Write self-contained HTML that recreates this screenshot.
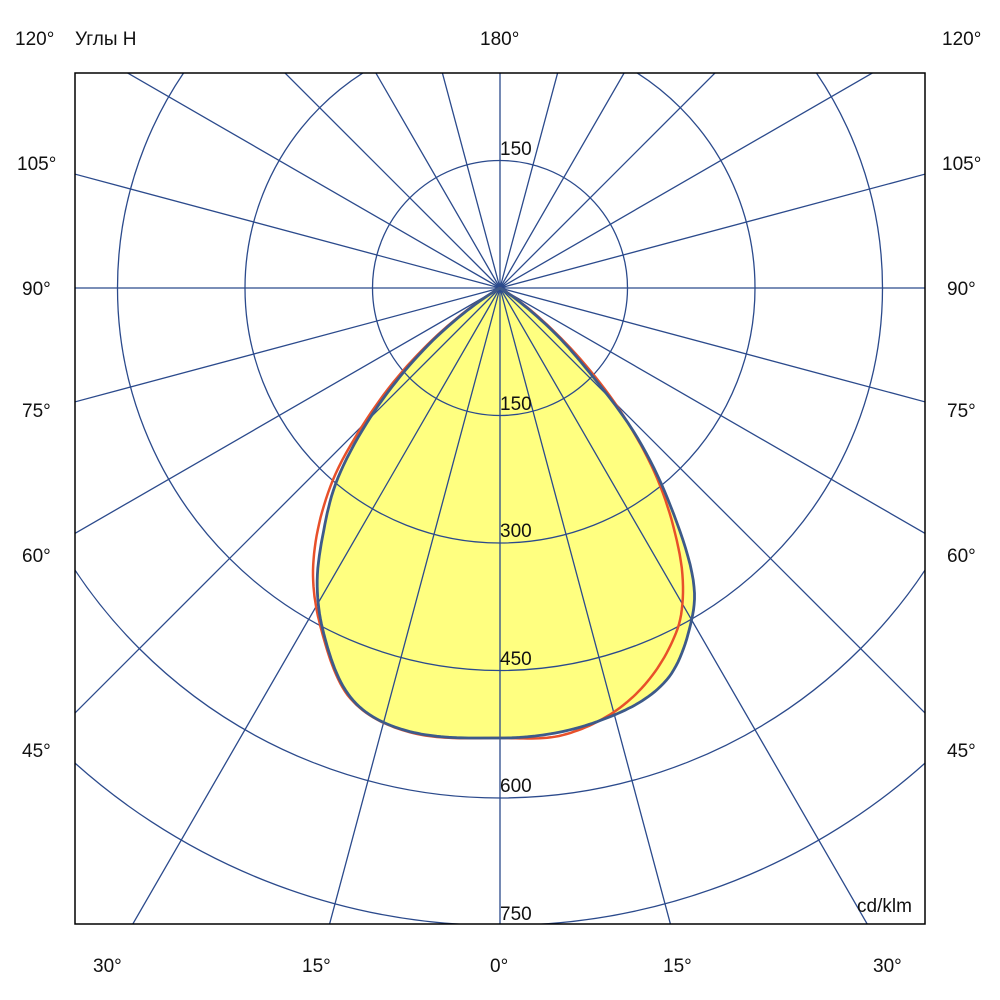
<!DOCTYPE html>
<html><head><meta charset="utf-8"><style>
body{margin:0;background:#fff;overflow:hidden}
text{font-family:"Liberation Sans","DejaVu Sans",sans-serif;font-size:19px;fill:#111}
</style></head><body>
<svg id="s" width="1000" height="1000" viewBox="0 0 1000 1000" xmlns="http://www.w3.org/2000/svg" style="display:block">
<defs><clipPath id="c"><rect x="75" y="73" width="850" height="851"/></clipPath></defs>
<g clip-path="url(#c)">
<path id="fill" fill="#ffff80" stroke="none"/>
<g id="grid2" stroke="#2b4a8c" stroke-width="1.3" fill="none"></g>
<path id="red" fill="none" stroke="#e8502a" stroke-width="2.5"/>
<path id="blue" fill="none" stroke="#3d5a8a" stroke-width="2.8"/>
</g>
<rect x="75" y="73" width="850" height="851" fill="none" stroke="#000" stroke-width="1.5"/>
<g>
<text x="500" y="155">150</text>
<text x="500" y="410">150</text>
<text x="500" y="537">300</text>
<text x="500" y="665">450</text>
<text x="500" y="792">600</text>
<text x="500" y="920">750</text>
<text x="857" y="912">cd/klm</text>
<text x="15" y="45">120°</text><text x="75" y="45">Углы H</text><text x="480" y="45">180°</text><text x="942" y="45">120°</text>
<text x="17" y="170">105°</text><text x="942" y="170">105°</text>
<text x="22" y="295">90°</text><text x="947" y="295">90°</text>
<text x="22" y="417">75°</text><text x="947" y="417">75°</text>
<text x="22" y="562">60°</text><text x="947" y="562">60°</text>
<text x="22" y="757">45°</text><text x="947" y="757">45°</text>
<text x="93" y="972">30°</text><text x="302" y="972">15°</text><text x="490" y="972">0°</text><text x="663" y="972">15°</text><text x="873" y="972">30°</text>
</g>
</svg>
<script>
var g=document.getElementById('grid2'),ns='http://www.w3.org/2000/svg';
for(var a=0;a<360;a+=15){var r=a*Math.PI/180,l=document.createElementNS(ns,'line');
l.setAttribute('x1',500);l.setAttribute('y1',288);l.setAttribute('x2',500+1500*Math.sin(r));l.setAttribute('y2',288+1500*Math.cos(r));g.appendChild(l);}
[127.5,255,382.5,510,637.5].forEach(function(R){var c=document.createElementNS(ns,'circle');c.setAttribute('cx',500);c.setAttribute('cy',288);c.setAttribute('r',R);g.appendChild(c);});
function interp(t,x){
  for(var i=0;i<t.length-1;i++){if(x<=t[i+1][0])break;}
  if(i>=t.length-1)return 0;
  var p0=t[Math.max(i-1,0)],p1=t[i],p2=t[i+1],p3=t[Math.min(i+2,t.length-1)];
  var h=p2[0]-p1[0],s=(x-p1[0])/h;
  var m1=(p2[1]-p0[1])/(p2[0]-p0[0]||1)*h, m2=(p3[1]-p1[1])/(p3[0]-p1[0]||1)*h;
  if(i==0)m1=0;
  var s2=s*s,s3=s2*s;
  return (2*s3-3*s2+1)*p1[1]+(s3-2*s2+s)*m1+(-2*s3+3*s2)*p2[1]+(s3-s2)*m2;
}
function path(L,R){var pts=[];
  for(var a=-60;a<=60;a+=0.5){var t=a<0?L:R,rr=Math.max(0,interp(t,Math.abs(a))),th=a*Math.PI/180;
    pts.push((500+rr*Math.sin(th)).toFixed(1)+','+(288+rr*Math.cos(th)).toFixed(1));}
  return 'M500,288L'+pts.join('L')+'L500,288';}
var BR=[[0,450],[13,444],[23,426],[30.3,381],[33.5,350],[37.6,284],[43,195],[46.6,124],[50,78],[53,41],[56,14],[60,0]];
var BL=[[0,450],[12.7,452],[20,436],[27.4,385],[32,345],[36,300],[40.3,252],[44.6,190],[48,140],[52,85],[56,35],[60,0]];
var RR=[[0,450],[8.5,451],[18,430],[27.4,385],[32,345],[36,295],[40,240],[44,178],[48,115],[52,60],[56,20],[60,0]];
var RL=[[0,450],[12,453],[20,437],[27,390],[34,334],[41,255],[45,194],[48,150],[52,92],[56,40],[60,0]];
var db=path(BL,BR);document.getElementById('fill').setAttribute('d',db+'Z');document.getElementById('blue').setAttribute('d',db);document.getElementById('red').setAttribute('d',path(RL,RR));
</script>
</body></html>
